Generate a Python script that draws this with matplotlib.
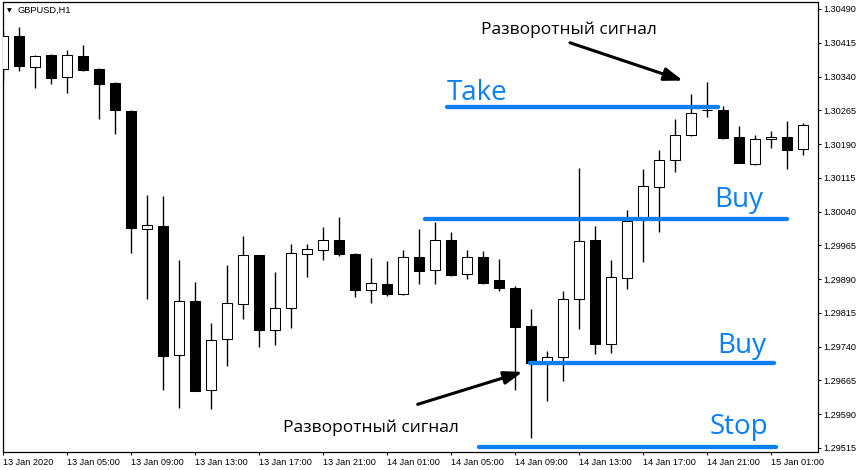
import matplotlib
matplotlib.use('Agg')
import matplotlib.pyplot as plt
import numpy as np

# GBPUSD H1 bars
opens = [1.30356, 1.30430, 1.30362, 1.30388, 1.30338, 1.30386, 1.30356, 1.30326,
         1.30263, 1.30001, 1.30007, 1.29721, 1.29841, 1.29643, 1.29756, 1.29834,
         1.29943, 1.29776, 1.29825, 1.29945, 1.29954, 1.29976, 1.29945, 1.29865,
         1.29879, 1.29856, 1.29939, 1.29910, 1.29976, 1.29901, 1.29939, 1.29888,
         1.29870, 1.29785, 1.29706, 1.29716, 1.29845, 1.29976, 1.29745, 1.29892,
         1.30026, 1.30094, 1.30154, 1.30210, 1.30266, 1.30266, 1.30205, 1.30145,
         1.30201, 1.30205, 1.30178]
highs = [1.30441, 1.30451, 1.30388, 1.30389, 1.30399, 1.30410, 1.30358, 1.30327,
         1.30266, 1.30077, 1.30075, 1.29933, 1.29884, 1.29793, 1.29921, 1.29986,
         1.29944, 1.29906, 1.29968, 1.29968, 1.30006, 1.30028, 1.29947, 1.29936,
         1.29930, 1.29955, 1.30001, 1.30017, 1.29994, 1.29954, 1.29952, 1.29934,
         1.29874, 1.29823, 1.29730, 1.29864, 1.30137, 1.30008, 1.29933, 1.30043,
         1.30135, 1.30177, 1.30245, 1.30301, 1.30328, 1.30274, 1.30230, 1.30210,
         1.30219, 1.30241, 1.30237]
lows = [1.30331, 1.30352, 1.30315, 1.30324, 1.30304, 1.30353, 1.30246, 1.30213,
        1.29947, 1.29847, 1.29644, 1.29604, 1.29641, 1.29602, 1.29698, 1.29802,
        1.29740, 1.29744, 1.29782, 1.29895, 1.29933, 1.29942, 1.29851, 1.29836,
        1.29853, 1.29855, 1.29879, 1.29879, 1.29896, 1.29890, 1.29879, 1.29863,
        1.29643, 1.29537, 1.29620, 1.29664, 1.29780, 1.29724, 1.29727, 1.29867,
        1.29927, 1.29995, 1.30129, 1.30209, 1.30249, 1.30201, 1.30148, 1.30144,
        1.30181, 1.30134, 1.30166]
closes = [1.30430, 1.30364, 1.30386, 1.30337, 1.30388, 1.30354, 1.30324, 1.30266,
          1.30004, 1.30010, 1.29720, 1.29841, 1.29642, 1.29754, 1.29836, 1.29943,
          1.29776, 1.29825, 1.29947, 1.29956, 1.29976, 1.29945, 1.29865, 1.29881,
          1.29856, 1.29939, 1.29907, 1.29976, 1.29899, 1.29939, 1.29881, 1.29870,
          1.29783, 1.29703, 1.29716, 1.29845, 1.29974, 1.29747, 1.29894, 1.30019,
          1.30096, 1.30154, 1.30210, 1.30258, 1.30265, 1.30204, 1.30149, 1.30201,
          1.30205, 1.30176, 1.30232]

time_labels = ['13 Jan 2020', '13 Jan 05:00', '13 Jan 09:00', '13 Jan 13:00',
               '13 Jan 17:00', '13 Jan 21:00', '14 Jan 01:00', '14 Jan 05:00',
               '14 Jan 09:00', '14 Jan 13:00', '14 Jan 17:00', '14 Jan 21:00',
               '15 Jan 01:00']
price_ticks = [1.29515, 1.29590, 1.29665, 1.29740, 1.29815, 1.29890, 1.29965,
               1.30040, 1.30115, 1.30190, 1.30265, 1.30340, 1.30415, 1.30490]

# trade levels: name, price, first bar, last bar
level_names = ['Take', 'Buy', 'Buy', 'Stop']
level_prices = [1.30272, 1.30024, 1.29704, 1.29518]
level_from = [27.75, 26.4, 32.95, 29.75]
level_to = [44.7, 49.0, 48.2, 48.3]

fig = plt.figure(figsize=(8.59, 4.70), dpi=100)
ax = fig.add_axes([2.5 / 859, 18 / 470, 815.5 / 859, 449.5 / 470])

x = np.arange(len(opens))
o = np.array(opens)
c = np.array(closes)
up = c >= o

# wicks first, bodies on top
ax.vlines(x, lows, highs, color='black', linewidth=1.0, zorder=2)
ax.bar(x, c - o, bottom=o, width=0.625,
       color=np.where(up, 'white', 'black'), edgecolor='black',
       linewidth=0.75, zorder=3)

# levels
blue = '#0a7ff2'
for name, p, a, b in zip(level_names, level_prices, level_from, level_to):
    ax.plot([a, b], [p, p], color=blue, linewidth=3.1,
            solid_capstyle='round', zorder=4)

txt = dict(color=blue, fontsize=20, family='Open Sans', va='baseline', ha='left')
ax.text(27.75, 1.30288, 'Take', **txt)
ax.text(44.44, 1.30050, 'Buy', **txt)
ax.text(44.63, 1.29726, 'Buy', **txt)
ax.text(44.19, 1.29546, 'Stop', **txt)

# reversal signal notes
note = dict(color='black', fontsize=12.5, family='Open Sans', va='baseline', ha='left')
ax.text(29.88, 1.30434, 'Разворотный сигнал', **note)
ax.text(17.5, 1.29551, 'Разворотный сигнал', **note)
arrow = dict(arrowstyle='-|>,head_length=0.8,head_width=0.28', color='black',
             lw=2.2, mutation_scale=14, shrinkA=0, shrinkB=0)
ax.annotate('', xy=(42.5, 1.30331), xytext=(35.44, 1.30415), arrowprops=arrow)
ax.annotate('', xy=(32.48, 1.29684), xytext=(25.92, 1.29612), arrowprops=arrow)

# axes, MT4 style
ax.set_xlim(-0.03, 50.94)
ax.set_ylim(1.295061, 1.305044)
ax.yaxis.tick_right()
ax.set_yticks(price_ticks)
ax.set_yticklabels(['%.5f' % p for p in price_ticks],
                   family='Liberation Sans', fontsize=6.6)
ax.set_xticks(np.arange(0, 49, 4))
ax.set_xticklabels(time_labels, family='Liberation Sans', fontsize=6.6, ha='left')
ax.tick_params(axis='x', direction='out', length=2.5, width=0.75, pad=1.5)
ax.tick_params(axis='y', direction='out', length=2.5, width=0.75, pad=1.5)
for s in ax.spines.values():
    s.set_linewidth(0.9)
    s.set_color('black')

fig.text(9.5 / 859, 1 - 10.5 / 470, '▼', fontsize=4.5, ha='center', va='center',
         family='DejaVu Sans')
fig.text(18 / 859, 1 - 10.5 / 470, 'GBPUSD,H1', fontsize=6.7, ha='left',
         va='center', family='Liberation Sans')

fig.savefig('out.png', dpi=100)
